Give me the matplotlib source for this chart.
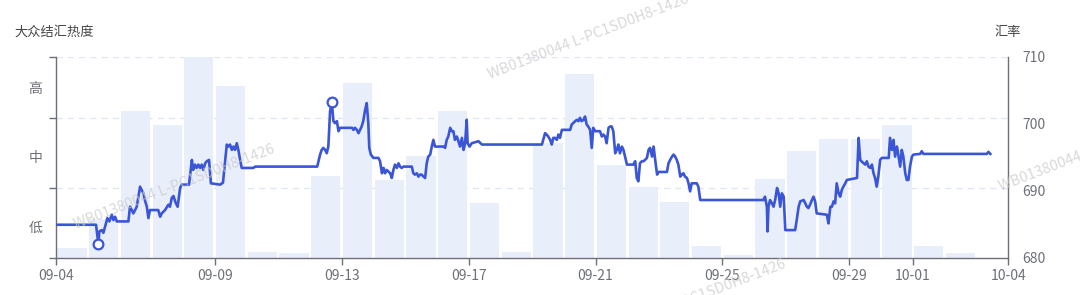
import matplotlib
matplotlib.use('Agg')
import matplotlib.pyplot as plt
import numpy as np
import pandas as pd

plt.rcParams['font.family'] = ['Noto Sans CJK SC', 'DejaVu Sans']

# 大众结汇热度, one bar per day (in band units: 0-1 低, 1-2 中, 2+ 高)
start = pd.Timestamp('2024-09-04')
bar_dates = pd.date_range(start, periods=30, freq='D')
heat = [0.14, 0.55, 2.10, 1.90, 2.87, 2.45, 0.08, 0.06, 1.17, 2.50,
        1.11, 1.45, 2.09, 0.78, 0.08, 1.64, 2.63, 1.32, 1.01, 0.80,
        0.17, 0.03, 1.12, 1.52, 1.69, 1.69, 1.89, 0.17, 0.06, 0.0]

heat_labels = ['低', '中', '高']

# 汇率 trace: days since 09-04, value
rate_days = [0, 1.26, 1.333, 1.365, 1.44, 1.49, 1.544, 1.617, 1.68, 1.755,
             1.806, 1.86, 1.913, 2.28, 2.33, 2.386, 2.436, 2.49, 2.543, 2.594,
             2.647, 2.70, 2.75, 2.80, 2.86, 2.91, 2.96, 3.22, 3.28, 3.33,
             3.435, 3.54, 3.59, 3.646, 3.70, 3.76, 3.83, 3.91, 3.96, 4.19,
             4.28, 4.32, 4.38, 4.43, 4.485, 4.54, 4.59, 4.64, 4.70, 4.75,
             4.82, 4.88, 5.17, 5.26, 5.33, 5.38, 5.43, 5.48, 5.54, 5.59,
             5.64, 5.695, 5.745, 5.80, 5.85, 6.21, 6.28, 8.23, 8.32, 8.37,
             8.42, 8.48, 8.53, 8.58, 8.635, 8.69, 8.74, 8.79, 8.85, 8.90,
             8.95, 9.33, 9.37, 9.42, 9.48, 9.53, 9.58, 9.63, 9.68, 9.74,
             9.79, 9.84, 9.87, 9.92, 10.0, 10.16, 10.21, 10.27, 10.32, 10.37,
             10.42, 10.53, 10.58, 10.63, 10.68, 10.74, 10.79, 10.84, 10.89, 10.95,
             11.21, 11.26, 11.31, 11.37, 11.42, 11.47, 11.52, 11.58, 11.63, 11.68,
             11.73, 11.79, 11.84, 11.89, 11.94, 12.21, 12.26, 12.31, 12.36, 12.42,
             12.47, 12.52, 12.57, 12.63, 12.68, 12.73, 12.79, 12.84, 12.89, 12.94,
             12.97, 13.03, 13.10, 13.31, 13.42, 15.31, 15.41, 15.46, 15.51, 15.57,
             15.62, 15.67, 15.72, 15.78, 15.83, 15.88, 15.94, 16.20, 16.25, 16.36,
             16.41, 16.46, 16.51, 16.56, 16.62, 16.67, 16.72, 16.77, 16.83, 16.88,
             16.93, 16.99, 17.14, 17.20, 17.25, 17.30, 17.35, 17.41, 17.46, 17.51,
             17.56, 17.62, 17.67, 17.72, 17.77, 17.83, 17.88, 17.93, 17.99, 18.19,
             18.25, 18.30, 18.35, 18.40, 18.46, 18.51, 18.56, 18.62, 18.67, 18.72,
             18.78, 18.83, 18.88, 18.94, 18.99, 19.25, 19.30, 19.35, 19.41, 19.46,
             19.51, 19.56, 19.61, 19.67, 19.72, 19.77, 19.82, 19.88, 19.93, 19.98,
             20.03, 20.19, 20.24, 20.30, 22.29, 22.34, 22.40, 22.42, 22.45, 22.50,
             22.56, 22.61, 22.66, 22.72, 22.77, 22.82, 22.87, 22.93, 22.98, 23.29,
             23.34, 23.40, 23.45, 23.56, 23.61, 23.66, 23.71, 23.76, 23.82, 23.87,
             23.92, 23.97, 24.29, 24.34, 24.40, 24.45, 24.50, 24.55, 24.60, 24.66,
             24.71, 24.76, 24.81, 24.87, 24.92, 25.24, 25.29, 25.34, 25.40, 25.50,
             25.55, 25.60, 25.66, 25.71, 25.76, 25.81, 25.86, 25.91, 25.97, 26.02,
             26.24, 26.28, 26.34, 26.39, 26.44, 26.50, 26.55, 26.60, 26.65, 26.70,
             26.76, 26.81, 26.86, 26.91, 26.97, 27.02, 27.23, 27.28, 27.33, 29.33,
             29.38, 29.44]
rate = [684.9, 684.9, 682.0, 683.9, 684.1, 683.7, 684.6, 685.9, 685.4, 686.4,
        685.6, 686.1, 685.4, 685.4, 687.6, 687.1, 686.6, 687.1, 687.6, 689.1,
        690.6, 690.1, 689.6, 688.6, 687.6, 685.9, 687.1, 687.1, 686.1, 686.6,
        687.1, 687.9, 687.6, 688.9, 689.2, 688.3, 687.6, 690.4, 690.9, 690.9,
        694.6, 693.1, 693.9, 693.4, 693.9, 693.4, 693.9, 693.1, 694.1, 694.4,
        694.6, 691.1, 690.9, 691.2, 694.6, 696.9, 696.6, 696.9, 696.1, 696.6,
        696.1, 697.1, 696.1, 694.6, 693.4, 693.4, 693.6, 693.6, 695.4, 696.1,
        696.4, 696.1, 695.6, 696.6, 701.9, 703.2, 700.4, 700.1, 700.4, 698.9,
        699.4, 699.4, 699.1, 699.4, 699.1, 698.6, 699.1, 699.6, 700.4, 702.1,
        703.1, 700.1, 696.4, 695.4, 694.9, 694.9, 694.4, 692.6, 693.4, 692.6,
        693.1, 692.6, 691.9, 693.1, 693.9, 693.4, 694.1, 693.6, 693.4, 693.6,
        693.6, 692.6, 692.4, 692.6, 692.1, 692.4, 692.4, 692.1, 691.9, 694.1,
        695.1, 695.4, 696.6, 697.6, 696.6, 696.6, 696.4, 697.6, 698.1, 699.4,
        698.9, 698.9, 697.6, 698.1, 697.4, 696.6, 697.9, 696.1, 697.1, 700.6,
        697.1, 696.6, 697.1, 697.4, 696.9, 696.9, 698.6, 698.4, 698.1, 697.6,
        696.9, 697.9, 697.9, 697.6, 698.4, 697.9, 699.1, 699.1, 699.9, 700.4,
        700.6, 700.4, 700.9, 700.4, 700.6, 701.1, 699.9, 699.6, 699.1, 696.4,
        699.4, 698.9, 698.9, 698.1, 698.4, 698.1, 697.1, 699.4, 699.6, 699.6,
        698.9, 695.6, 696.1, 696.9, 695.6, 696.6, 696.1, 695.1, 693.9, 693.9,
        694.4, 691.9, 691.4, 694.1, 694.4, 694.4, 694.6, 694.9, 696.1, 696.4,
        695.1, 696.6, 694.6, 692.4, 692.8, 692.8, 694.1, 694.6, 695.1, 695.4,
        695.1, 694.6, 693.9, 692.1, 692.4, 692.6, 692.1, 691.9, 691.1, 689.9,
        691.1, 691.1, 690.6, 688.6, 688.6, 689.1, 687.6, 683.9, 687.6, 688.6,
        688.1, 687.6, 688.6, 690.4, 689.6, 687.6, 689.6, 689.1, 684.1, 684.1,
        685.6, 687.6, 688.4, 688.6, 688.1, 687.6, 687.4, 687.9, 688.6, 689.1,
        688.4, 686.6, 686.4, 685.1, 687.6, 687.6, 688.4, 688.1, 691.1, 689.6,
        689.1, 690.1, 690.6, 691.1, 691.6, 691.9, 697.9, 694.6, 694.3, 693.9,
        694.4, 693.6, 693.4, 693.9, 692.6, 691.9, 690.6, 692.1, 694.6, 694.9,
        694.9, 697.9, 696.1, 697.6, 695.1, 696.6, 695.1, 693.6, 696.1, 695.1,
        692.6, 691.6, 691.6, 693.6, 695.1, 695.4, 695.5, 695.9, 695.5, 695.5,
        695.8, 695.5]

tick_dates = ['09-04', '09-09', '09-13', '09-17', '09-21', '09-25', '09-29', '10-01', '10-04']

watermark = 'WB01380044 L-PC1SD0H8-1426'

fig = plt.figure(figsize=(10.8, 2.95), dpi=100)
ax = fig.add_axes([0.0519, 0.1271, 0.8815, 0.6797])

grey = '#6e7079'
bar_x = (bar_dates - start).days.values

ax.bar(bar_x + 0.04, heat, width=0.92, align='edge', color='#e9eefb', zorder=1)
ax.set_xlim(0, 30)
ax.set_ylim(0, 2.87)

ax.set_yticks([0, 1, 2, 2.87])
ax.set_yticklabels([])
ax.set_yticks([0.44, 1.44, 2.44], minor=True)
ax.set_yticklabels(heat_labels, minor=True, fontsize=10, color=grey)
ax.tick_params(axis='y', which='major', length=5, color=grey, width=1)
ax.tick_params(axis='y', which='minor', length=0, pad=10)
for yv in [1, 2, 2.87]:
    ax.axhline(yv, color='#dfe5f1', lw=0.9, ls=(0, (5, 4)), zorder=0)

tick_x = [(pd.Timestamp('2024-' + t) - start).days for t in tick_dates]
ax.set_xticks(tick_x)
ax.set_xticklabels(tick_dates, fontsize=10, color=grey)
ax.tick_params(axis='x', length=5, color=grey, width=1, pad=3)

for side in ['top', 'right']:
    ax.spines[side].set_visible(False)
for side in ['left', 'bottom']:
    ax.spines[side].set_color(grey)
    ax.spines[side].set_linewidth(1)

ax2 = ax.twinx()
ax2.plot(rate_days, rate, color='#3a56d6', lw=1.9, zorder=3, solid_joinstyle='round')
i_min = int(np.argmin(rate))
i_max = int(np.argmax(rate))
ax2.plot([rate_days[i_min], rate_days[i_max]], [rate[i_min], rate[i_max]], 'o',
         ms=7, mfc='white', mec='#3a56d6', mew=1.6, zorder=4)
ax2.set_ylim(680, 710)
ax2.set_yticks([680, 690, 700, 710])
ax2.tick_params(axis='y', length=0, labelsize=10, labelcolor=grey, pad=10)
for side in ['top', 'left', 'bottom']:
    ax2.spines[side].set_visible(False)
ax2.spines['right'].set_color(grey)
ax2.spines['right'].set_linewidth(1)

fig.text(0.013, 0.89, '大众结汇热度', fontsize=9.5, color='#464646', va='center')
fig.text(0.933, 0.89, '汇率', fontsize=9.5, color='#464646', va='center', ha='center')

for cx, cy in [(0.161, 0.366), (0.545, 0.875), (0.635, -0.024), (1.018, 0.495)]:
    fig.text(cx, cy, watermark, fontsize=10.5, color='#c8c8c8', alpha=0.7,
             rotation=21, rotation_mode='anchor', ha='center', va='center', zorder=10)

fig.savefig('out.png', dpi=100)
